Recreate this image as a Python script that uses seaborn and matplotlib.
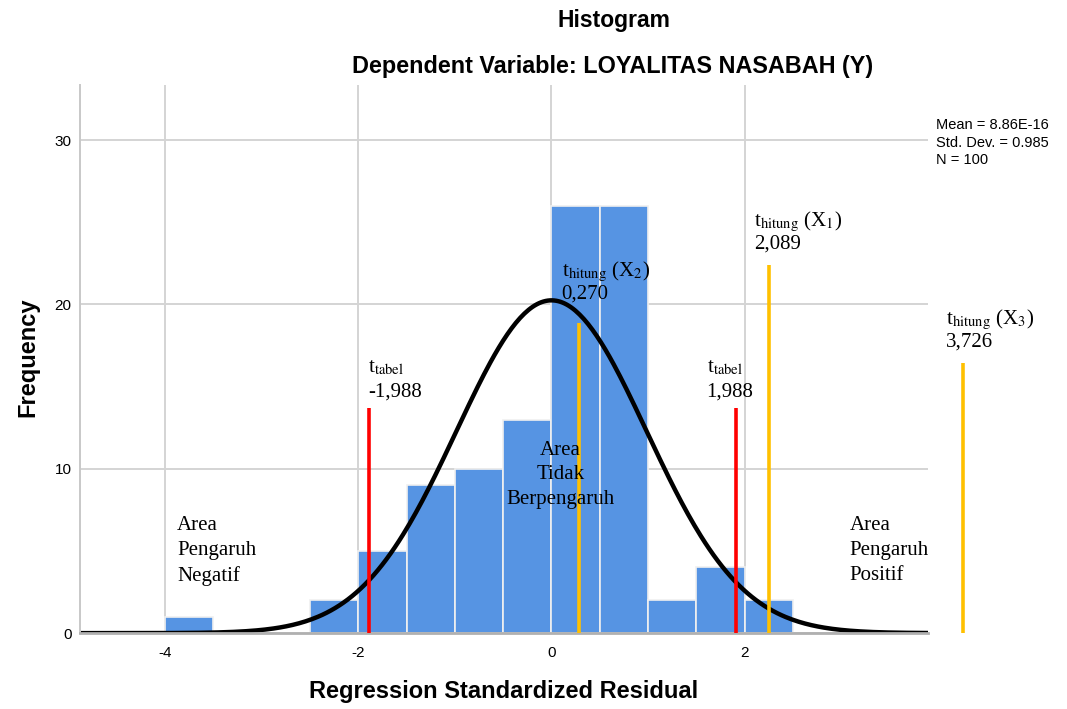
import numpy as np
import pandas as pd
import matplotlib
matplotlib.use("Agg")
import matplotlib.pyplot as plt
import seaborn as sns

# data histogram residual (lebar bin 0.5)
bin_mid = [-3.75, -3.25, -2.75, -2.25, -1.75, -1.25, -0.75, -0.25, 0.25, 0.75, 1.25, 1.75, 2.25]
freq = [1, 0, 0, 2, 5, 9, 10, 13, 26, 26, 2, 4, 2]
mean_res = 8.86e-16
sd_res = 0.985
n_res = 100

# label t hitung / t tabel
t_labels = ["t$_{\\mathrm{hitung}}$ (X$_{1}$)", "t$_{\\mathrm{hitung}}$ (X$_{2}$)", "t$_{\\mathrm{hitung}}$ (X$_{3}$)",
            "t$_{\\mathrm{tabel}}$", "t$_{\\mathrm{tabel}}$"]
t_values = ["2,089", "0,270", "3,726", "-1,988", "1,988"]
area_labels = ["Area\nPengaruh\nNegatif", "Area\nTidak\nBerpengaruh", "Area\nPengaruh\nPositif"]

df = pd.DataFrame({'res': bin_mid, 'n': freq})

sns.set_theme(style="white")
plt.rcParams['font.family'] = ['Liberation Sans', 'DejaVu Sans']
plt.rcParams['mathtext.fontset'] = 'stix'
plt.rcParams['axes.unicode_minus'] = False
plt.rcParams['text.color'] = 'black'

fig = plt.figure(figsize=(10.67, 7.09), dpi=100)
ax = fig.add_axes([0.075, 0.107, 0.795, 0.773])

ax.set_axisbelow(True)
ax.grid(True, color='#d4d4d4', lw=1.4)

sns.histplot(data=df, x='res', weights='n', binwidth=0.5, binrange=(-4, 2.5), color='#5694E3', alpha=1,
             edgecolor='#f0f0f0', linewidth=1.2, ax=ax)

# kurva normal
xs = np.linspace(-4.88, 3.9, 400)
ys = n_res * 0.5 * np.exp(-0.5 * ((xs - mean_res) / sd_res) ** 2) / (sd_res * np.sqrt(2 * np.pi))
sns.lineplot(x=xs, y=ys, color='black', lw=3.2, ax=ax)

ax.set_xlim(-4.88, 3.9)
ax.set_ylim(0, 33.35)
ax.set_xticks([-4, -2, 0, 2])
ax.set_yticks([0, 10, 20, 30])
ax.tick_params(length=0, labelsize=11, colors='black')
ax.tick_params(axis='x', pad=9)
ax.tick_params(axis='y', pad=6)
ax.set_xlabel('')
ax.set_ylabel('')
for s in ['top', 'right']:
    ax.spines[s].set_visible(False)
ax.spines['left'].set_color('#c8c8c8')
ax.spines['left'].set_linewidth(1.4)
ax.spines['bottom'].set_color('#b0b0b0')
ax.spines['bottom'].set_linewidth(2)

# garis t
red = '#FF0000'
yel = '#FFC000'
garis = [(-1.886, 13.69, red), (1.907, 13.69, red), (0.280, 18.87, yel), (2.249, 22.4, yel), (4.259, 16.43, yel)]
for gx, gh, gc in garis:
    ax.plot([gx, gx], [0, gh], color=gc, lw=2.6, clip_on=False, solid_capstyle='butt', zorder=5)

serif = ['Liberation Serif', 'DejaVu Serif']
pos_lab = [(2.093, 24.77, 23.43), (0.104, 21.73, 20.39), (4.083, 18.81, 17.41),
           (-1.896, 15.89, 14.42), (1.606, 15.89, 14.42)]
for (tx, y1, y2), lab, val in zip(pos_lab, t_labels, t_values):
    ax.text(tx, y1, lab, family=serif, fontsize=15, va='baseline', ha='left', clip_on=False, zorder=6)
    ax.text(tx, y2, val, family=serif, fontsize=15, va='baseline', ha='left', clip_on=False, zorder=6)

ax.text(-3.876, 7.1, area_labels[0], family=serif, fontsize=15, va='top', ha='left', linespacing=1.4)
ax.text(0.093, 11.7, area_labels[1], family=serif, fontsize=15, va='top', ha='center', linespacing=1.4, zorder=6)
ax.text(3.088, 7.1, area_labels[2], family=serif, fontsize=15, va='top', ha='left', linespacing=1.4, clip_on=False)

fig.text(0.5755, 0.971, 'Histogram', fontsize=16.5, fontweight='bold', ha='center', va='center')
fig.text(0.5745, 0.906, 'Dependent Variable: LOYALITAS NASABAH (Y)', fontsize=16.8, fontweight='bold',
         ha='center', va='center')
fig.text(0.026, 0.496, 'Frequency', fontsize=17, fontweight='bold', rotation=90, ha='center', va='center')
fig.text(0.4724, 0.024, 'Regression Standardized Residual', fontsize=17, fontweight='bold', ha='center', va='center')
fig.text(0.877, 0.833, 'Mean = 8.86E-16\nStd. Dev. = 0.985\nN = 100', fontsize=10.5, ha='left', va='top',
         linespacing=1.3)

fig.savefig('out.png', dpi=100)
